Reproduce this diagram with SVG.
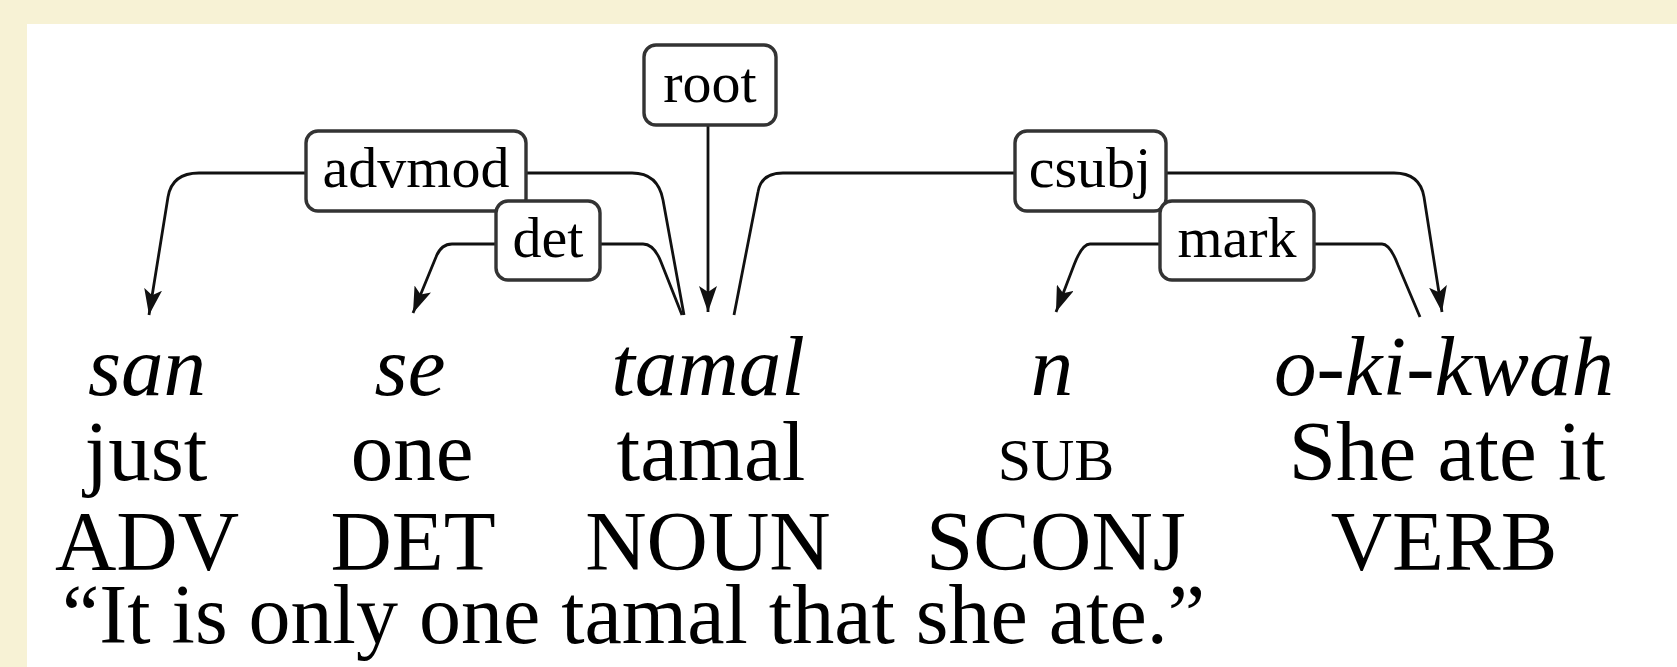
<svg xmlns="http://www.w3.org/2000/svg" width="1677" height="667" viewBox="0 0 1677 667">
  <style>
    .word { font-family: "Liberation Serif", "Times New Roman", serif; font-size: 85px; fill: #000; text-anchor: middle; }
    .form { font-style: italic; }
    .sc { font-variant: small-caps; }
    .lbl rect { fill: #fff; stroke: #333; stroke-width: 3.4; }
    .lbl text { font-family: "Liberation Serif", "Times New Roman", serif; font-size: 58px; fill: #000; text-anchor: middle; }
    .arc { fill: none; stroke: #111; stroke-width: 2.8; }
  </style>
  <defs>
    <marker id="head" viewBox="0 0 26 18" refX="26" refY="9" markerWidth="26" markerHeight="18" markerUnits="userSpaceOnUse" orient="auto">
      <path d="M0,0 L26,9 L0,18 L6,9 z" fill="#111"/>
    </marker>
  </defs>

  <!-- page background with margin band -->
  <rect x="0" y="0" width="1677" height="667" fill="#f7f2d5"/>
  <rect x="27" y="24" width="1650" height="643" fill="#fff"/>

  <!-- dependency arcs -->
  <g id="connectors">
    <path class="arc" d="M306,173 L199,173 Q172,173 168,197 L149,315" marker-end="url(#head)"/>
    <path class="arc" d="M526,173 L632,173 Q658,173 663,200 L684,315"/>
    <path class="arc" d="M496,244 L452,244 Q441,244 436,257 L413,313" marker-end="url(#head)"/>
    <path class="arc" d="M600,244 L643,244 Q654,244 661,262 L682,315"/>
    <path class="arc" d="M708,125 L708,312" marker-end="url(#head)"/>
    <path class="arc" d="M1015,173 L783,173 Q761,173 758,192 L734,315"/>
    <path class="arc" d="M1166,173 L1394,173 Q1420,173 1424,197 L1442,312" marker-end="url(#head)"/>
    <path class="arc" d="M1160,244 L1090,244 Q1082,244 1074,265 L1056,312" marker-end="url(#head)"/>
    <path class="arc" d="M1314,244 L1382,244 Q1390,244 1398,265 L1420,317"/>
  </g>

  <!-- relation labels -->
  <g id="lbl-advmod" class="lbl">
    <rect x="306" y="131" width="220" height="80" rx="12"/>
    <text x="416" y="187">advmod</text>
  </g>
  <g id="lbl-det" class="lbl">
    <rect x="496" y="201" width="104" height="79" rx="12"/>
    <text x="548" y="257">det</text>
  </g>
  <g id="lbl-root" class="lbl">
    <rect x="644" y="45" width="132" height="80" rx="12"/>
    <text x="710" y="102">root</text>
  </g>
  <g id="lbl-csubj" class="lbl">
    <rect x="1015" y="131" width="151" height="80" rx="12"/>
    <text x="1090" y="187">csubj</text>
  </g>
  <g id="lbl-mark" class="lbl">
    <rect x="1160" y="201" width="154" height="79" rx="12"/>
    <text x="1237" y="257">mark</text>
  </g>

  <!-- words: form / gloss / part of speech -->
  <g id="w-san">
    <text class="word form" x="147" y="395">san</text>
    <text class="word" x="146" y="480">just</text>
    <text class="word" x="147" y="570">ADV</text>
  </g>
  <g id="w-se">
    <text class="word form" x="410" y="395">se</text>
    <text class="word" x="412" y="480">one</text>
    <text class="word" x="413" y="570">DET</text>
  </g>
  <g id="w-tamal">
    <text class="word form" x="708" y="395">tamal</text>
    <text class="word" x="711" y="480">tamal</text>
    <text class="word" x="708" y="570">NOUN</text>
  </g>
  <g id="w-n">
    <text class="word form" x="1052" y="395">n</text>
    <text class="word sc" x="1056" y="480">sub</text>
    <text class="word" x="1056" y="570">SCONJ</text>
  </g>
  <g id="w-okikwah">
    <text class="word form" x="1444" y="395">o-ki-kwah</text>
    <text class="word" x="1447" y="480">She ate it</text>
    <text class="word" x="1444" y="570">VERB</text>
  </g>

  <!-- free translation -->
  <g id="translation">
    <text class="word" x="62" y="643" style="text-anchor:start;font-size:84px">“It is only one tamal that she ate.”</text>
  </g>
</svg>
